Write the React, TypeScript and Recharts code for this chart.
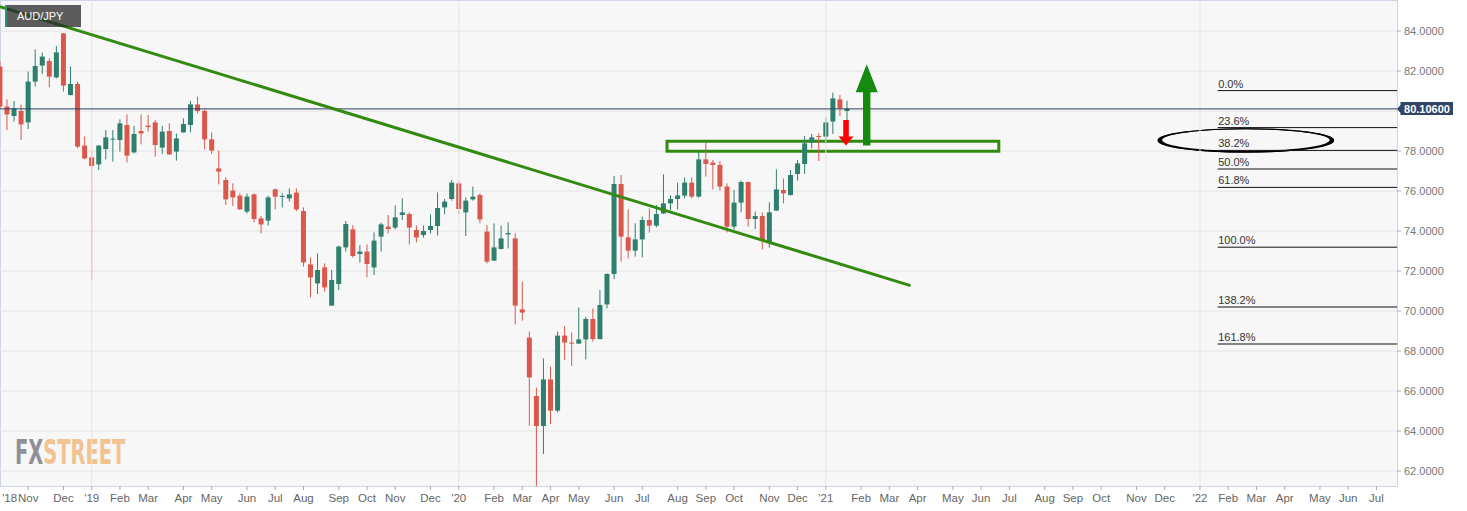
import React from 'react'
import { ComposedChart, Bar, XAxis, YAxis, CartesianGrid, ReferenceLine, ReferenceArea } from 'recharts'

// weekly candles, first one is the week of Mon 2018-10-01
const FIRST_WEEK = Date.UTC(2018, 9, 1)
const WEEK_COUNT = 198
const DAY = 86400000

const opens = [
  82.22, 80.22, 79.75, 80.0, 79.43, 81.47, 82.27, 82.5, 81.68, 83.88, 80.8, 81.35, 78.27,
  77.68, 77.33, 78.1, 78.57, 78.55, 79.3, 77.93, 79.0, 79.27, 79.43, 78.17, 79.0, 77.97,
  78.93, 79.3, 80.33, 80.0, 78.58, 77.13, 76.55, 76.02, 75.77, 74.97, 75.83, 74.63, 74.52,
  76.08, 75.7, 75.63, 75.92, 75.0, 72.33, 71.38, 72.18, 70.27, 71.35, 73.18, 74.08, 72.85,
  72.97, 72.18, 73.72, 74.22, 74.17, 74.8, 74.85, 74.05, 73.8, 74.05, 74.25, 75.18, 75.6,
  76.38, 74.93, 75.58, 75.8, 73.97, 72.52, 73.1, 73.83, 73.63, 70.08, 68.67, 65.75, 64.25,
  66.58, 65.02, 68.77, 68.42, 68.37, 68.58, 69.6, 68.6, 70.33, 71.85, 76.35, 73.68, 73.02,
  73.58, 74.55, 74.27, 74.88, 75.38, 75.6, 75.77, 76.42, 75.72, 77.58, 77.42, 77.3, 76.22,
  74.22, 75.42, 76.45, 74.6, 74.75, 73.47, 75.02, 76.05, 75.8, 76.85, 77.35, 78.42, 78.75,
  78.72, 79.47, 80.58, 80.0,
]
const highs = [
  82.47, 80.58, 80.5, 80.33, 81.97, 83.08, 82.92, 82.63, 83.25, 83.9, 82.22, 81.47, 78.72,
  78.02, 78.3, 79.05, 79.05, 79.58, 79.83, 79.25, 79.83, 79.8, 79.55, 79.25, 79.38, 78.88,
  79.63, 80.5, 80.72, 80.08, 78.93, 78.02, 76.68, 76.38, 75.88, 75.88, 75.88, 74.75, 75.77,
  76.13, 75.88, 76.13, 76.13, 75.18, 72.68, 72.88, 72.38, 72.05, 73.27, 74.5, 74.3, 73.3,
  73.33, 73.93, 74.42, 74.8, 75.28, 75.63, 74.93, 74.28, 74.27, 74.83, 75.93, 75.6, 76.55,
  76.5, 75.68, 76.22, 75.88, 74.3, 74.38, 74.27, 74.43, 73.88, 71.47, 68.97, 66.17, 67.63,
  67.22, 68.97, 69.25, 68.93, 70.17, 69.72, 70.13, 71.05, 71.88, 76.75, 76.8, 75.08, 74.38,
  74.72, 75.13, 75.3, 76.83, 75.8, 76.42, 76.67, 76.67, 77.97, 78.43, 77.55, 77.5, 76.38,
  76.05, 76.52, 76.47, 74.97, 74.93, 75.43, 77.08, 76.63, 77.05, 77.55, 78.75, 78.85, 78.88,
  79.67, 80.92, 80.8, 80.52,
]
const lows = [
  80.13, 79.05, 79.47, 78.55, 79.1, 81.22, 81.85, 81.18, 81.63, 80.97, 80.77, 78.13, 77.58,
  71.55, 77.05, 77.58, 77.47, 77.97, 77.43, 77.88, 78.33, 78.97, 77.72, 77.85, 77.8, 77.52,
  78.92, 78.93, 79.88, 78.08, 77.85, 76.33, 75.3, 75.25, 75.05, 74.88, 74.43, 73.88, 74.27,
  75.08, 75.18, 75.47, 75.0, 72.22, 70.68, 70.85, 70.97, 70.25, 71.05, 72.97, 72.67, 72.42,
  71.68, 71.8, 72.97, 73.88, 74.08, 74.55, 73.33, 73.43, 73.67, 73.88, 73.77, 74.83, 75.52,
  74.83, 73.75, 75.52, 74.38, 72.38, 72.5, 73.08, 73.13, 69.33, 69.52, 64.27, 61.25, 62.85,
  64.35, 64.93, 67.55, 67.25, 68.35, 67.58, 68.47, 68.58, 70.13, 71.6, 72.47, 72.63, 72.72,
  72.68, 73.92, 74.18, 74.85, 75.05, 75.08, 75.63, 75.63, 75.67, 76.72, 76.08, 76.02, 73.93,
  74.08, 74.93, 74.22, 74.1, 73.08, 73.17, 75.0, 75.38, 75.77, 76.52, 76.85, 78.13, 77.5,
  78.38, 78.85, 79.75, 79.55,
]
const closes = [
  80.22, 79.83, 80.13, 79.33, 81.47, 82.25, 82.72, 81.72, 82.93, 81.27, 81.35, 78.22, 77.63,
  77.25, 78.27, 78.68, 78.62, 79.38, 77.77, 78.85, 78.88, 79.2, 78.3, 78.97, 77.83, 78.63,
  79.35, 80.33, 80.0, 78.58, 78.02, 76.97, 75.58, 75.68, 75.08, 75.72, 74.6, 74.33, 75.68,
  75.72, 75.75, 75.83, 75.08, 72.43, 71.68, 72.05, 71.18, 71.55, 73.22, 74.35, 72.75, 72.97,
  72.35, 73.52, 74.33, 74.1, 74.68, 74.93, 74.17, 73.68, 74.0, 74.25, 75.15, 75.47, 76.42,
  75.1, 75.52, 75.72, 74.58, 72.47, 73.18, 73.63, 73.9, 70.27, 69.92, 66.68, 64.25, 66.58,
  65.02, 68.77, 68.42, 68.37, 68.58, 69.6, 68.6, 70.3, 71.85, 76.35, 73.72, 73.02, 73.58,
  74.55, 74.27, 74.85, 75.38, 75.6, 75.78, 76.42, 75.72, 77.58, 77.35, 77.3, 76.22, 74.22,
  75.42, 76.45, 74.6, 74.75, 73.52, 74.93, 76.08, 75.88, 76.8, 77.38, 78.38, 78.68, 78.7,
  79.43, 80.63, 80.13, 80.106,
]

const MONTHS = ['Jan', 'Feb', 'Mar', 'Apr', 'May', 'Jun', 'Jul', 'Aug', 'Sep', 'Oct', 'Nov', 'Dec']
// 80.0000 is covered by the last-price tag, so it is not listed
const yTicks = [62, 64, 66, 68, 70, 72, 74, 76, 78, 82, 84]
const gridLevels = [62, 64, 66, 68, 70, 72, 74, 76, 78, 80, 82, 84]
const lastPrice = 80.106

const fibLevels = [81.02, 79.17, 78.03, 77.1, 76.18, 73.19, 70.2, 68.35]
const fibLabels = ['0.0%', '23.6%', '38.2%', '50.0%', '61.8%', '100.0%', '138.2%', '161.8%']
const fibWeeks = ['2022-01-24', '2022-07-11']

const trendLine = [{ x: '2018-10-01', y: 85.22 }, { x: '2021-03-22', y: 71.27 }]
const zoneWeeks = ['2020-07-27', '2021-06-14']
const zonePrices = [77.99, 78.49]
const downArrow = [{ x: '2021-01-18', y: 79.55 }, { x: '2021-01-18', y: 78.27 }]
const upArrow = [{ x: '2021-02-08', y: 78.27 }, { x: '2021-02-08', y: 82.34 }]
const ringWeeks = ['2021-11-22', '2022-05-16']
const ringPrices = [77.92, 79.14]

const FONT = '"Liberation Sans", Arial, sans-serif'
const UP = '#2f7f6d'
const DOWN = '#d9584b'
const MARK = '#338a10'

const rows = Array.from({ length: WEEK_COUNT }, (_, k) => {
  const t = FIRST_WEEK + k * 7 * DAY
  const fri = new Date(t + 4 * DAY)
  return {
    week: new Date(t).toISOString().slice(0, 10),
    month: fri.getUTCMonth(),
    year: fri.getUTCFullYear(),
    open: opens[k] ?? null,
    high: highs[k] ?? null,
    low: lows[k] ?? null,
    close: closes[k] ?? null,
  }
})

// a label on the first week whose friday falls in a new month
const tickText: Record<string, string> = {}
rows.forEach((r, k) => {
  if (k === 0 || rows[k - 1].month === r.month) return
  const yy = "'" + String(r.year).slice(2)
  tickText[r.week] = r.month === 0 ? yy : Object.keys(tickText).length === 0 ? yy + ' ' + MONTHS[r.month] : MONTHS[r.month]
})
const monthTicks = Object.keys(tickText)
const yearWeeks = monthTicks.filter((w) => tickText[w].length === 3 && tickText[w][0] === "'")

const Candle = (props: any) => {
  const { x, y, width, height, payload } = props
  if (payload.open == null || !height) return null
  const { open, close, high, low } = payload
  const top = Math.min(y, y + height)
  const k = Math.abs(height) / (high - low)
  const at = (v: number) => top + (high - v) * k
  const cx = x + width / 2
  const color = close >= open ? UP : DOWN
  const b1 = at(Math.max(open, close))
  const b2 = at(Math.min(open, close))
  return (
    <g>
      <line x1={cx} x2={cx} y1={top} y2={top + Math.abs(height)} stroke={color} strokeWidth={1} />
      <rect x={x} y={b1} width={width} height={Math.max(1, b2 - b1)} fill={color} />
    </g>
  )
}

const MonthTick = ({ x, y, payload }: any) => {
  const text = tickText[payload.value]
  if (!text) return null
  const st = { fontFamily: FONT, fontSize: 11.5, fill: '#666' }
  const parts = text.split(' ')
  if (parts.length === 2) {
    return (
      <g>
        <text x={x - 11} y={y + 10} textAnchor="end" {...st}>{parts[0]}</text>
        <text x={x} y={y + 10} textAnchor="middle" {...st}>{parts[1]}</text>
      </g>
    )
  }
  return <text x={x} y={y + 10} textAnchor="middle" {...st}>{text}</text>
}

const Arrow = (w: number, hw: number, hl: number, dx: number, color: string) => (p: any) => {
  const { y1, y2 } = p
  const x = p.x1 + dx
  const d = y2 > y1 ? 1 : -1
  const yh = y2 - d * hl
  const pts = [
    [x - w, y1], [x + w, y1], [x + w, yh], [x + hw, yh], [x, y2], [x - hw, yh], [x - w, yh],
  ].map((q) => q.join(',')).join(' ')
  return <polygon points={pts} fill={color} />
}

const FibLine = (label: string) => (p: any) => (
  <g>
    <line x1={p.x1 - 3.5} x2={p.x2 + 6.5} y1={p.y1} y2={p.y1} stroke="#111" strokeWidth={1} />
    <text x={p.x1 - 3} y={p.y1 - 3} fontFamily={FONT} fontSize={11} fill="#333">{label}</text>
  </g>
)

const PriceLine = (p: any) => {
  const left = Math.min(p.x1, p.x2)
  const right = Math.max(p.x1, p.x2)
  const y = p.y1
  return (
    <g>
      <line x1={left} x2={right} y1={y} y2={y} stroke="#2c3d5c" strokeWidth={1} />
      <path d={`M${right} ${y} L${right + 3.5} ${y - 4} V${y - 7} H${right + 56} V${y + 6} H${right + 3.5} V${y + 4} Z`} fill="#2f4669" />
      <text x={right + 30} y={y + 3.8} textAnchor="middle" fontFamily={FONT} fontSize={11} fontWeight="bold" fill="#fff">
        {lastPrice.toFixed(5)}
      </text>
    </g>
  )
}

const Ring = (p: any) => {
  const cx = p.x + p.width / 2
  const cy = p.y + p.height / 2
  const rx = p.width / 2 - 3.5
  const ry = p.height / 2
  const e = (x: number, y: number, a: number, b: number) =>
    `M${x - a} ${y} A${a} ${b} 0 1 0 ${x + a} ${y} A${a} ${b} 0 1 0 ${x - a} ${y} Z`
  return (
    <g>
      <ellipse cx={cx} cy={cy} rx={rx - 0.5} ry={ry - 0.5} fill="none" stroke="#000" strokeWidth={1.1} />
      <path d={e(cx, cy, rx, ry) + e(cx, cy - 0.3, rx - 4.5, ry - 1.4)} fill="#000" fillRule="evenodd" />
    </g>
  )
}

export default function App() {
  return (
    <div style={{ position: 'absolute', left: 0, top: 0, width: 1467, height: 511, background: '#fff', overflow: 'hidden' }}>
      <div style={{ position: 'absolute', left: 0, top: 0, width: 1398, height: 487, background: '#f7f7f7', border: '1px solid #cdd5e6', boxSizing: 'border-box' }} />
      <svg style={{ position: 'absolute', left: 0, top: 0 }} width={200} height={486}>
        <g transform="translate(15 464) scale(0.589 1)">
          <text x={0} y={0} fontFamily='"DejaVu Sans", sans-serif' fontSize={33} fontWeight="bold">
            <tspan fill="#8e9099">FX</tspan>
            <tspan fill="#f2c390">STREET</tspan>
          </text>
        </g>
      </svg>
      <div style={{ position: 'absolute', left: -4, top: 0 }}>
        <ComposedChart width={1471} height={511} data={rows} margin={{ top: 0, right: 0, left: 0, bottom: 0 }}>
          <CartesianGrid vertical={false} stroke="#e4e4e4" horizontalValues={gridLevels} />
          {yearWeeks.map((w) => (
            <ReferenceLine key={w} x={w} stroke="#e4e4e4" />
          ))}
          <XAxis
            dataKey="week"
            type="category"
            ticks={monthTicks}
            interval={0}
            tick={<MonthTick />}
            tickSize={4}
            tickLine={{ stroke: '#aab' }}
            axisLine={false}
            height={25}
            padding={{ left: 0.4, right: 2.9 }}
          />
          <YAxis
            orientation="right"
            domain={[61.25, 85.55]}
            ticks={yTicks}
            allowDataOverflow
            width={70}
            tickFormatter={(v: number) => v.toFixed(4)}
            tick={{ fontFamily: FONT, fontSize: 11, fill: '#777' }}
            tickSize={4}
            tickMargin={3}
            tickLine={{ stroke: '#aab' }}
            axisLine={false}
          />
          <Bar
            dataKey={(d: any) => (d.open == null ? null : [d.low, d.high])}
            barSize={5}
            shape={<Candle />}
            isAnimationActive={false}
          />
          <ReferenceLine y={lastPrice} shape={PriceLine} />
          <ReferenceLine segment={trendLine} stroke={MARK} strokeWidth={3} />
          <ReferenceArea
            x1={zoneWeeks[0]}
            x2={zoneWeeks[1]}
            y1={zonePrices[0]}
            y2={zonePrices[1]}
            fill="none"
            fillOpacity={0}
            stroke={MARK}
            strokeWidth={3}
          />
          <ReferenceLine segment={downArrow} shape={Arrow(2.8, 7.5, 9, -1, '#ff0000')} />
          <ReferenceLine segment={upArrow} shape={Arrow(3.7, 11, 28, -1.5, '#168a0e')} />
          {fibLevels.map((v, i) => (
            <ReferenceLine
              key={fibLabels[i]}
              segment={[{ x: fibWeeks[0], y: v }, { x: fibWeeks[1], y: v }]}
              shape={FibLine(fibLabels[i])}
            />
          ))}
          <ReferenceArea x1={ringWeeks[0]} x2={ringWeeks[1]} y1={ringPrices[0]} y2={ringPrices[1]} shape={Ring} />
        </ComposedChart>
      </div>
      <div style={{ position: 'absolute', left: 5, top: 5, width: 76, height: 22, background: 'rgba(40,40,40,0.75)', borderLeft: '2px solid #2f8f7a', boxSizing: 'border-box', color: '#fff', fontFamily: FONT, fontSize: 11, lineHeight: '22px', paddingLeft: 10 }}>
        AUD/JPY
      </div>
    </div>
  )
}
